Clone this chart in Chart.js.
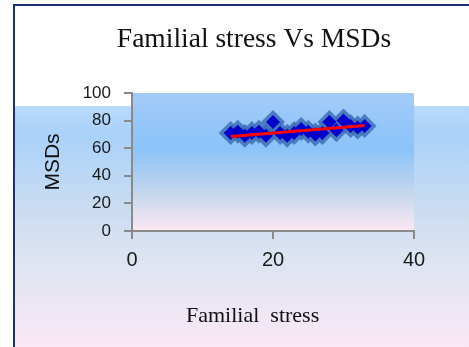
<!DOCTYPE html>
<html>
<head>
<meta charset="utf-8">
<script src="https://cdn.jsdelivr.net/npm/chart.js@4/dist/chart.umd.min.js"></script>
<style>
  html, body { margin: 0; padding: 0; background: #fff; }
  canvas { display: block; }
</style>
</head>
<body>
<canvas id="scatterChart" width="469" height="347"></canvas>
<script>
// values
var stressX = [14, 15, 16, 17, 18, 19, 20, 21, 22, 23, 24, 25, 26, 27, 28, 29, 30, 31, 32, 33];
var msdY    = [71, 72, 69, 71, 72, 69, 79, 71, 69, 71, 74, 72, 70, 71, 79, 73, 80, 76, 75, 76];
var trendX  = [14, 33];
var trendY  = [68.5, 76.5];
var xTicks  = [0, 20, 40];
var yTicks  = [0, 20, 40, 60, 80, 100];

var chartTitle = 'Familial stress Vs MSDs';
var xTitle = 'Familial  stress';
var yTitle = 'MSDs';

function toPoints(xs, ys) {
    return xs.map(function (x, i) { return { x: x, y: ys[i] }; });
}

// background, frame, plot area fill
var backdrop = {
    id: 'backdrop',
    beforeDraw: function (chart) {
        var c = chart.ctx, w = chart.width, h = chart.height, a = chart.chartArea;
        c.save();
        c.fillStyle = '#ffffff';
        c.fillRect(0, 0, w, h);

        var g = c.createLinearGradient(0, 106, 0, h);
        g.addColorStop(0, '#bad9fb');
        g.addColorStop(0.12, '#a9d1f9');
        g.addColorStop(0.42, '#cadcf1');
        g.addColorStop(0.62, '#dce4f1');
        g.addColorStop(1, '#fae8f6');
        c.fillStyle = g;
        c.fillRect(14, 106, w - 14, h - 106);

        c.strokeStyle = '#1c3370';
        c.lineWidth = 2;
        c.beginPath();
        c.moveTo(14, h);
        c.lineTo(14, 5);
        c.lineTo(w, 5);
        c.stroke();

        var pg = c.createLinearGradient(0, a.top, 0, a.bottom);
        pg.addColorStop(0, '#a3cbf8');
        pg.addColorStop(0.4, '#8bc3f9');
        pg.addColorStop(0.72, '#c3d6ec');
        pg.addColorStop(1, '#fde8f4');
        c.fillStyle = pg;
        c.fillRect(a.left + 1, a.top, a.right - a.left - 1, a.bottom - a.top);
        c.restore();
    },
    afterDraw: function (chart) {
        var c = chart.ctx;
        c.save();
        c.fillStyle = '#111';
        c.textBaseline = 'alphabetic';
        c.textAlign = 'center';
        c.font = '27.5px "Liberation Serif", "Times New Roman", serif';
        c.fillText(chartTitle, 254, 47);
        c.textAlign = 'left';
        c.font = '22px "Liberation Serif", "Times New Roman", serif';
        c.fillText(xTitle, 186, 322);
        c.restore();
    }
};

var ctx = document.getElementById('scatterChart').getContext('2d');
var myChart = new Chart(ctx, {
    type: 'scatter',
    plugins: [backdrop],
    data: {
        datasets: [{
            label: 'trend',
            type: 'line',
            data: toPoints(trendX, trendY),
            borderColor: '#ff0000',
            borderWidth: 3,
            pointRadius: 0,
            fill: false,
            order: 0
        }, {
            label: 'MSDs',
            data: toPoints(stressX, msdY),
            pointStyle: 'rectRot',
            pointRadius: 7,
            backgroundColor: '#0000cc',
            borderWidth: 0,
            order: 1
        }, {
            label: 'glow',
            data: toPoints(stressX, msdY),
            pointStyle: 'rectRot',
            pointRadius: 12,
            backgroundColor: 'rgba(62, 112, 186, 0.85)',
            borderWidth: 0,
            order: 2
        }]
    },
    options: {
        responsive: false,
        animation: false,
        layout: { padding: { left: 39, top: 93, right: 55, bottom: 0 } },
        plugins: {
            legend: { display: false },
            tooltip: { enabled: false }
        },
        scales: {
            x: {
                type: 'linear',
                min: 0,
                max: 40,
                afterBuildTicks: function (s) { s.ticks = xTicks.map(function (v) { return { value: v }; }); },
                afterFit: function (s) { s.height = 116; },
                border: { color: '#8a8a8a', width: 2 },
                grid: { drawOnChartArea: false, color: '#8a8a8a', lineWidth: 2, tickLength: 8 },
                ticks: {
                    color: '#1a1a1a',
                    padding: 9,
                    font: { family: '"Liberation Sans", Arial, sans-serif', size: 20 }
                }
            },
            y: {
                min: 0,
                max: 100,
                afterBuildTicks: function (s) { s.ticks = yTicks.map(function (v) { return { value: v }; }); },
                afterFit: function (s) { s.width = 93; },
                border: { color: '#8a8a8a', width: 2 },
                grid: { drawOnChartArea: false, color: '#8a8a8a', lineWidth: 2, tickLength: 8 },
                ticks: {
                    color: '#1a1a1a',
                    padding: 13,
                    font: { family: '"Liberation Sans", Arial, sans-serif', size: 17 }
                },
                title: {
                    display: true,
                    text: yTitle,
                    color: '#111',
                    padding: { top: 2, bottom: 0 },
                    font: { family: '"Liberation Sans", Arial, sans-serif', size: 21 }
                }
            }
        }
    }
});
</script>
</body>
</html>
